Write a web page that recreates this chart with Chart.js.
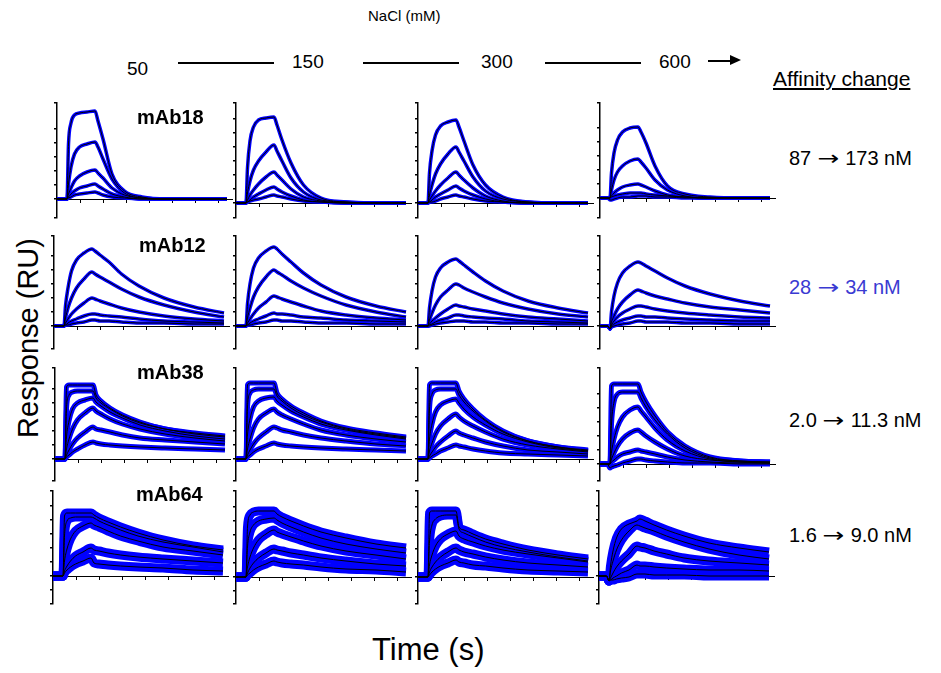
<!DOCTYPE html>
<html><head><meta charset="utf-8">
<script src="https://cdn.jsdelivr.net/npm/chart.js@4.4.1/dist/chart.umd.min.js"></script>
<style>
html,body{margin:0;padding:0;background:#fff;}
body{width:941px;height:673px;position:relative;overflow:hidden;font-family:"Liberation Sans",Arial,sans-serif;color:#000;}
.t{position:absolute;white-space:nowrap;line-height:1;}
.ln{position:absolute;background:#000;}
.pw{position:absolute;}
.ar{font-family:"DejaVu Sans",sans-serif;display:inline-block;transform:scaleX(1.3);margin:0 3px;}
</style></head><body>
<script>
// ---------- data (response above baseline) ----------
const TIME = [-20, -5, 0, 3, 8, 15, 25, 40, 56, 62, 72, 90, 115, 150, 200, 260, 320];
const XTICKS = [26, 72, 118, 164, 210, 256, 302];
const ANTIBODIES = ['mAb18', 'mAb12', 'mAb38', 'mAb64'];
const NACL = ['50', '150', '300', '600'];
const AFF_FROM = ['87', '28', '2.0', '1.6'];
const AFF_TO = ['173 nM', '34 nM', '11.3 nM', '9.0 nM'];

const mAb18_50 = [
  [0,0,0,55,76,84,86,87,88,78,60,25,8,2,0,0,0],
  [0,0,0,15,32,45,52,55,57,52,40,20,6,1,0,0,0],
  [0,0,0,5,11,18,23,27,29,26,21,11,4,1,0,0,0],
  [0,0,0,2,5,8,11,13,15,13,10,5,2,0,0,0,0],
  [0,0,0,1,2,4,5,6,7,6,4,2,1,0,0,0,0]
];
const mAb18_150 = [
  [0,0,0,35,62,76,83,85,86,78,63,40,18,5,1,0,0],
  [0,0,0,10,22,33,42,51,58,52,42,25,11,3,1,0,0],
  [0,0,0,3,8,13,19,26,31,28,23,14,6,2,0,0,0],
  [0,0,0,1,3,6,9,13,16,14,11,7,3,1,0,0,0],
  [0,0,0,1,2,3,4,6,8,7,6,4,2,1,0,0,0]
];
const mAb18_300 = [
  [0,0,0,30,52,68,77,81,83,76,62,38,18,6,1,0,0],
  [0,0,0,8,18,29,39,49,56,51,42,26,12,4,1,0,0],
  [0,0,0,3,7,12,18,25,31,28,23,15,7,2,0,0,0],
  [0,0,0,1,3,6,9,13,17,15,12,8,4,1,0,0,0],
  [0,0,0,1,1,2,4,6,8,7,6,4,2,1,0,0,0]
];
const mAb18_600 = [
  [0,0,0,25,45,58,66,70,71,66,55,32,12,4,1,0,0],
  [0,0,0,8,18,26,32,37,39,36,30,18,8,2,0,0,0],
  [0,0,0,2,5,8,11,13,14,13,11,7,3,1,0,0,0],
  [0,0,0,1,2,3,4,5,5,5,4,3,2,1,0,0,0],
  [0,0,-2,-2,-1,0,1,1,2,2,2,1,1,0,0,0,0]
];
const mAb12_50 = [
  [0,0,0,20,38,55,66,73,77,75,71,64,52,40,28,19,13],
  [0,0,0,8,18,28,38,47,54,52,49,44,37,29,21,14,9],
  [0,0,0,3,7,12,17,23,28,27,25,22,18,14,10,7,5],
  [0,0,0,1,3,5,7,10,12,12,11,10,9,7,5,4,3],
  [0,0,0,1,1,2,3,4,6,6,5,5,4,3,3,2,2]
];
const mAb12_150 = [
  [0,0,0,22,42,58,68,75,79,77,72,64,53,41,29,20,14],
  [0,0,0,8,18,29,39,49,56,54,51,45,38,30,21,14,9],
  [0,0,0,3,7,12,18,24,30,29,27,24,20,15,11,8,6],
  [0,0,0,1,3,5,7,10,13,12,12,11,9,8,6,5,4],
  [0,0,0,1,1,2,3,4,6,6,5,5,4,3,3,2,2]
];
const mAb12_300 = [
  [0,0,0,18,35,49,58,64,67,65,61,54,45,35,25,18,13],
  [0,0,0,6,13,21,29,36,42,41,38,34,29,23,17,12,9],
  [0,0,0,2,5,8,12,17,21,20,19,17,15,12,9,7,5],
  [0,0,0,1,2,4,6,8,11,11,10,9,8,7,5,4,3],
  [0,0,0,0,1,2,3,4,5,5,5,4,4,3,3,2,2]
];
const mAb12_600 = [
  [0,0,-3,14,30,43,53,60,64,63,60,55,48,40,32,25,20],
  [0,0,-3,4,10,17,24,31,36,35,33,30,27,23,19,16,13],
  [0,0,-3,1,5,9,13,17,20,20,19,17,15,13,11,9,8],
  [0,0,-3,0,2,4,6,8,10,10,9,9,8,7,6,5,5],
  [0,0,-3,-1,0,1,2,3,5,5,4,4,4,3,3,2,2]
];
const mAb38_50 = [
  [0,0,0,72,74,74,74,74,74,64,58,51,44,37,30,26,23],
  [0,0,0,50,64,67,68,68,68,61,56,50,43,36,30,25,22],
  [0,0,0,22,38,50,56,59,61,57,53,47,41,34,28,23,20],
  [0,0,0,10,20,30,39,46,51,48,45,40,35,30,25,21,18],
  [0,0,0,4,9,15,21,27,32,30,29,27,24,21,19,17,15],
  [0,0,0,2,4,7,10,14,17,16,15,14,13,12,11,10,9]
];
const mAb38_150 = [
  [0,0,0,74,76,76,76,76,76,66,60,53,46,38,31,26,22],
  [0,0,0,52,66,69,70,70,70,63,58,51,44,37,30,25,21],
  [0,0,0,24,40,52,58,61,62,58,54,48,42,35,29,24,20],
  [0,0,0,10,20,31,40,46,50,47,44,40,35,29,24,20,17],
  [0,0,0,4,9,15,21,27,32,31,29,27,24,21,18,15,13],
  [0,0,0,2,4,7,10,13,16,15,14,13,12,11,10,9,8]
];
const mAb38_300 = [
  [0,0,0,74,76,76,76,76,76,68,60,50,39,28,18,12,9],
  [0,0,0,50,65,69,70,70,70,64,57,48,38,27,18,12,8],
  [0,0,0,20,35,47,54,58,60,56,50,42,34,25,17,11,8],
  [0,0,0,8,16,25,33,40,45,42,38,33,27,20,14,10,7],
  [0,0,0,3,7,12,17,23,28,26,24,21,17,13,9,7,5],
  [0,0,0,1,3,5,8,11,14,13,12,10,8,6,5,4,3]
];
const mAb38_600 = [
  [0,0,0,78,80,80,80,80,80,72,62,48,32,18,7,3,2],
  [0,0,0,40,62,70,72,72,72,66,57,44,30,16,6,3,2],
  [0,0,0,12,25,37,47,54,57,53,47,36,24,13,5,2,1],
  [0,0,0,5,11,18,25,31,34,32,28,22,15,8,4,2,1],
  [0,0,0,2,4,7,10,12,14,13,12,10,7,4,2,1,1],
  [0,0,-4,-3,-2,-1,1,3,5,5,4,3,2,1,1,0,0]
];
const mAb64_50 = [
  [0,0,0,60,63,63,63,63,63,61,58,54,49,43,36,30,26],
  [0,0,0,40,55,58,59,59,59,58,55,51,46,40,34,29,24],
  [0,0,0,15,27,37,45,50,53,51,49,45,40,35,29,25,21],
  [0,0,0,5,10,15,20,24,28,26,25,23,21,19,17,15,13],
  [0,0,0,3,6,9,12,15,18,13,12,11,10,9,8,6,5]
];
const mAb64_150 = [
  [0,0,0,50,62,65,66,66,66,63,60,56,51,45,39,33,29],
  [0,0,0,30,45,52,56,58,59,57,54,50,45,39,33,28,24],
  [0,0,0,10,20,29,37,43,47,45,43,40,36,31,26,22,18],
  [0,0,0,4,9,14,19,24,28,27,26,24,22,19,16,13,11],
  [0,0,0,2,4,7,10,13,16,15,14,13,12,10,8,7,5]
];
const mAb64_300 = [
  [0,0,0,64,66,66,66,66,66,50,47,43,38,33,27,22,18],
  [0,0,0,35,52,58,61,62,62,48,44,40,35,30,25,20,16],
  [0,0,0,12,22,31,38,43,46,41,38,35,31,27,23,19,15],
  [0,0,0,5,10,15,20,25,29,27,25,23,20,17,14,12,10],
  [0,0,0,2,5,8,11,14,17,15,14,12,11,9,7,6,5]
];
const mAb64_600 = [
  [0,0,-5,10,25,38,47,52,55,57,55,51,46,40,33,28,24],
  [0,0,-5,5,15,26,36,45,51,50,48,45,40,34,27,21,17],
  [0,0,-5,-2,3,9,15,22,30,29,28,25,22,18,15,13,11],
  [0,0,-5,-4,-2,0,3,6,11,10,10,9,8,7,6,6,5],
  [0,0,-4,-4,-4,-3,-2,-1,2,2,2,1,1,1,0,0,0]
];
const PANELS = [
  [mAb18_50, mAb18_150, mAb18_300, mAb18_600],
  [mAb12_50, mAb12_150, mAb12_300, mAb12_600],
  [mAb38_50, mAb38_150, mAb38_300, mAb38_600],
  [mAb64_50, mAb64_150, mAb64_300, mAb64_600]
];

// ---------- layout ----------
const AXIS_X = [[57,236,418,600],[54,236,418,600],[55,236,418,600],[53,236,418,599]];
const ROW_TOP = [103, 236, 368, 491];
const ROW_BOT = [218, 349, 481, 604];
const BASE = [[199,203,203,198],[326,326,326,326],[459,459,459,464],[576,577,577,576]];
const BLUE_W = [3.5, 3.5, 5, 9];
const PLOT_W = 175;
const YW = 5;

function addText(txt, left, top, size, extra) {
  const d = document.createElement('div');
  d.className = 't';
  d.textContent = txt;
  d.style.left = left + 'px';
  d.style.top = top + 'px';
  d.style.fontSize = size + 'px';
  if (extra) Object.assign(d.style, extra);
  document.body.appendChild(d);
  return d;
}
function addLine(x, y, w, h) {
  const d = document.createElement('div');
  d.className = 'ln';
  Object.assign(d.style, {left: x + 'px', top: y + 'px', width: w + 'px', height: h + 'px'});
  document.body.appendChild(d);
}

// header
addText('NaCl (mM)', 368, 8, 15);
const HDR_X = [127, 292, 481, 659];
const HDR_TOP = [59, 52, 52, 52];
NACL.forEach((s, i) => addText(s, HDR_X[i], HDR_TOP[i], 19));
addLine(178, 62, 96, 1.5);
addLine(363, 62, 96, 1.5);
addLine(545, 62, 96, 1.5);
addLine(708, 59.5, 24, 2);
(function(){
  const a = document.createElement('div');
  Object.assign(a.style, {position:'absolute', left:'730px', top:'55px', width:0, height:0,
    borderTop:'5.5px solid transparent', borderBottom:'5.5px solid transparent', borderLeft:'11px solid #000'});
  document.body.appendChild(a);
})();
addText('Affinity change', 773, 68, 21, {textDecoration:'underline'});

// axis titles
addText('Response (RU)', 28, 338, 29, {transform:'translate(-50%,-50%) rotate(-90deg)'});
addText('Time (s)', 372, 634, 31);

// right labels
const AFF_TOP = [148, 277, 410, 525];
AFF_FROM.forEach((s, i) => {
  const d = addText('', 789, AFF_TOP[i], 20, i === 1 ? {color:'#3a3ad2'} : null);
  d.appendChild(document.createTextNode(s + ' '));
  const sp = document.createElement('span');
  sp.className = 'ar';
  sp.textContent = '\u2192';
  d.appendChild(sp);
  d.appendChild(document.createTextNode(' ' + AFF_TO[i]));
});

// panels
for (let r = 0; r < 4; r++) {
  for (let c = 0; c < 4; c++) {
    const ax = AXIS_X[r][c];
    const top = ROW_TOP[r], bot = ROW_BOT[r], base = BASE[r][c];
    const wrap = document.createElement('div');
    wrap.className = 'pw';
    const W = YW + PLOT_W + 2, H = bot - top + 2;
    Object.assign(wrap.style, {left: (ax - YW) + 'px', top: (top - 1) + 'px', width: W + 'px', height: H + 'px'});
    const cv = document.createElement('canvas');
    cv.width = W; cv.height = H;
    wrap.appendChild(cv);
    document.body.appendChild(wrap);
    const curves = PANELS[r][c];
    const datasets = [];
    curves.forEach(cu => {
      const pts = cu.map((v, i) => ({x: TIME[i], y: v}));
      datasets.push({data: pts, borderColor: '#0000ff', borderWidth: BLUE_W[r], pointRadius: 0,
        cubicInterpolationMode: 'monotone', order: 2, borderJoinStyle: 'round'});
      datasets.push({data: pts, borderColor: '#000000', borderWidth: 1, pointRadius: 0,
        cubicInterpolationMode: 'monotone', order: 1});
    });
    new Chart(cv, {
      type: 'line',
      data: {datasets},
      options: {
        responsive: false, animation: false, devicePixelRatio: 1,
        layout: {padding: {left: 0, right: 2, top: 1, bottom: 1}},
        plugins: {legend: {display: false}, tooltip: {enabled: false}},
        scales: {
          x: {type: 'linear', min: -20, max: 330, position: {y: 0},
            afterFit: s => { s.height = 0; },
            afterBuildTicks: s => { s.ticks = XTICKS.map(v => ({value: v})); },
            border: {display: true, color: '#000', width: 1},
            grid: {display: true, drawOnChartArea: false, drawTicks: true, tickLength: 3, color: '#000', lineWidth: 1},
            ticks: {display: false}},
          y: {type: 'linear', min: -(bot - base), max: base - top,
            afterFit: s => { s.width = YW; },
            border: {display: true, color: '#000', width: 1.5},
            grid: {display: true, drawOnChartArea: false, drawTicks: true, tickLength: 3, color: '#000', lineWidth: 1.5},
            ticks: {display: false, stepSize: 14}}
        }
      }
    });
  }
}
// antibody names (on top of panels)
const AB_X = [137, 139, 137, 136];
const AB_TOP = [107, 235, 362, 484];
ANTIBODIES.forEach((s, i) => addText(s, AB_X[i], AB_TOP[i], 20, {fontWeight:'bold'}));
</script>
</body></html>
